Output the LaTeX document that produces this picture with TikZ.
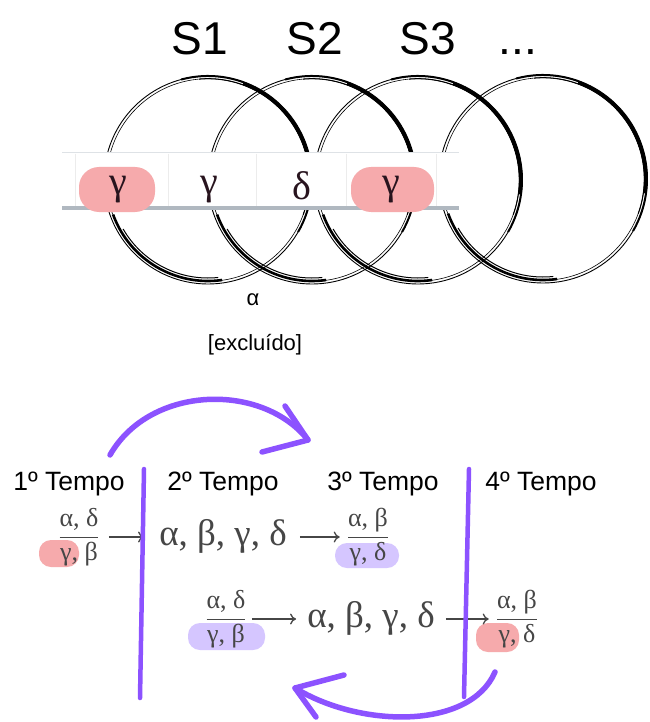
\documentclass[tikz,border=0pt]{standalone}
\usepackage{fontspec}
\setmainfont{Liberation Sans}
\newfontfamily\grk{Liberation Serif}
\usetikzlibrary{arrows.meta}
\definecolor{vio}{RGB}{140,82,255}
\definecolor{pinkhl}{RGB}{246,170,172}
\definecolor{viohl}{RGB}{213,198,255}
\definecolor{txtg}{RGB}{70,70,70}
\definecolor{bandline}{RGB}{176,184,192}
\definecolor{bandtop}{RGB}{222,226,230}
\definecolor{grdark}{RGB}{40,20,30}
\newcommand\sketchring[2]{%
 \begin{scope}[shift={(#1,#2)}]
  \draw[line width=0.9] (0,0) circle[radius=104];
  \draw[line width=0.6] (0,0) circle[radius=101.3];
  \draw[line width=2] (-105:104) arc[start angle=-105,end angle=30,radius=104];
  \draw[line width=3.2] (-70:102.8) arc[start angle=-70,end angle=8,radius=102.8];
  \draw[line width=1] (-95:101.3) arc[start angle=-95,end angle=20,radius=101.3];
  \draw[line width=2.6] (160:101) arc[start angle=160,end angle=82,radius=101];
  \draw[line width=1] (150:98) arc[start angle=150,end angle=84,radius=98];
 \end{scope}}
\tikzset{
  slabel/.style={font=\fontsize{46}{50}\selectfont, anchor=base, inner sep=0},
  tlabel/.style={font=\fontsize{26.5}{29}\selectfont, anchor=base, inner sep=0},
  smalltxt/.style={font=\fontsize{22}{26}\selectfont, inner sep=0},
  bandgr/.style={font=\grk\fontsize{40}{42}\selectfont, text=grdark, inner sep=0},
  biglist/.style={font=\grk\fontsize{37}{40}\selectfont, text=txtg, inner sep=1},
  fracnode/.style={font=\grk\fontsize{26}{28}\selectfont, text=txtg, inner sep=1},
  vline/.style={draw=vio, line width=4.5, line cap=round},
  varc/.style={draw=vio, line width=5.5, line cap=round, line join=round},
  marrow/.style={draw=txtg, line width=1.3, -{To[length=6,width=11]}},
  hlp/.style={fill=pinkhl, rounded corners=12},
  hlv/.style={fill=viohl, rounded corners=12},
}
\begin{document}
\begin{tikzpicture}[x=1pt,y=-1pt]
\useasboundingbox (0,0) rectangle (649,722);
\fill[white] (0,0) rectangle (649,722);
% titles
\node[slabel] (s1) at (200,55) {S1};
\node[slabel] (s2) at (315,55) {S2};
\node[slabel] (s3) at (428,55) {S3};
\node[slabel] (s4) at (518,55) {...};
% rings
\sketchring{208}{180}
\sketchring{312}{180}
\sketchring{418}{180}
\sketchring{543}{179}
% band
\fill[white] (62,152) rectangle (459,210);
\foreach \xx in {75,168,256,346,436} \draw[gray!15, line width=0.6] (\xx,154) -- (\xx,206);
\draw[bandtop, line width=1] (62,153) -- (459,153);
\draw[bandline, line width=4] (62,208) -- (459,208);
\fill[pinkhl, rounded corners=20] (79,167) rectangle (155,212);
\fill[pinkhl, rounded corners=20] (351,167) rectangle (434,212);
\node[bandgr] (g1) at (118,190) {γ};
\node[bandgr] (g2) at (209,190) {γ};
\node[bandgr] (g3) at (302,186) {δ};
\node[bandgr] (g4) at (391,190) {γ};
\node[smalltxt] (al) at (253,300) {α};
\node[smalltxt] (ex) at (255,345) {[excluído]};
% tempo labels
\node[tlabel] (t1) at (69,490) {1º Tempo};
\node[tlabel] (t2) at (223,490) {2º Tempo};
\node[tlabel] (t3) at (383,490) {3º Tempo};
\node[tlabel] (t4) at (541,490) {4º Tempo};
% highlights
\fill[hlp] (39,540) rectangle (79,567);
\fill[hlv] (335,543) rectangle (399,568);
\fill[hlv] (188,623) rectangle (265,650);
\fill[hlp] (476,623) rectangle (519,652);
% formulas row 1
\node[fracnode] (f1) at (79,537) {$\displaystyle\frac{\hbox{α, δ}}{\hbox{γ, β}}$};
\node[biglist] (l1) at (223,536) {α, β, γ, δ};
\node[fracnode] (f2) at (368,537) {$\displaystyle\frac{\hbox{α, β}}{\hbox{γ, δ}}$};
\draw[marrow, shorten <=8pt, shorten >=14pt] (f1.east) -- (f1.east -| l1.west);
\draw[marrow, shorten <=12pt, shorten >=6pt] (l1.east |- f2.west) -- (f2.west);
% formulas row 2
\node[fracnode] (f3) at (226,619) {$\displaystyle\frac{\hbox{α, δ}}{\hbox{γ, β}}$};
\node[biglist] (l2) at (371,618) {α, β, γ, δ};
\node[fracnode] (f4) at (517,619) {$\displaystyle\frac{\hbox{α, β}}{\hbox{γ, δ}}$};
\draw[marrow, shorten <=4pt, shorten >=10pt] (f3.east) -- (f3.east -| l2.west);
\draw[marrow, shorten <=10pt, shorten >=6pt] (l2.east |- f4.west) -- (f4.west);
% purple lines
\coordinate (v1a) at (144,469); \coordinate (v1b) at (140,698);
\coordinate (v2a) at (469,469); \coordinate (v2b) at (464,697);
\draw[vline] (v1a) -- (v1b);
\draw[vline] (v2a) -- (v2b);
% curved arrows
\coordinate (a1s) at (110,455); \coordinate (a1e) at (308,440);
\draw[varc] (a1s) .. controls (150,385) and (262,382) .. (a1e);
\draw[varc] (285,406) -- (a1e) -- (262,452);
\coordinate (a2s) at (495,672); \coordinate (a2e) at (295,688);
\draw[varc] (a2s) .. controls (470,730) and (360,728) .. (a2e);
\draw[varc] (344,675) -- (a2e) -- (316,717);
\end{tikzpicture}
\end{document}
